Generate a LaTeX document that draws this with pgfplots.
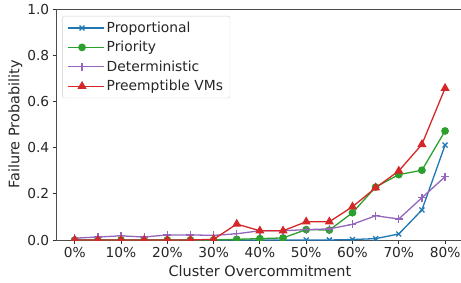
\documentclass[border=0pt]{standalone}
\usepackage{pgfplots}
\pgfplotsset{compat=1.18}
\usepackage{fontspec}
\setmainfont{DejaVu Sans}
\definecolor{cblue}{RGB}{31,119,180}
\definecolor{cgreen}{RGB}{44,160,44}
\definecolor{cpurple}{RGB}{148,103,189}
\definecolor{cred}{RGB}{214,39,40}
\begin{document}
\begin{tikzpicture}
\begin{axis}[
  name=ax,
  scale only axis,
  width=407.4bp, height=231bp,
  xmin=-4, xmax=84, ymin=0, ymax=1,
  xtick={0,10,...,80},
  xticklabels={0\%,10\%,20\%,30\%,40\%,50\%,60\%,70\%,80\%},
  ytick={0,0.2,...,1.0},
  yticklabel style={/pgf/number format/fixed,/pgf/number format/fixed zerofill,/pgf/number format/precision=1},
  /pgf/number format/assume math mode=true,
  tick label style={font=\fontsize{13.8}{16}\selectfont, text=black!85},
  label style={font=\fontsize{14.5}{17}\selectfont, text=black!85},
  xlabel={Cluster Overcommitment},
  ylabel={Failure Probability},
  xlabel style={yshift=-1.5bp},
  ylabel style={yshift=-2bp},
  xtick pos=bottom, ytick pos=left,
  tick align=outside,
  major tick length=3.5bp,
  every tick/.style={black!80, line width=0.8bp},
  axis line style={black!70, line width=0.8bp},
  clip marker paths=true,
  every axis plot/.append style={line width=1.3bp},
  legend cell align=left,
  legend style={at={(rel axis cs:0,1)}, anchor=north west, xshift=6bp, yshift=-7bp,
    draw=black!18, rounded corners=2pt, fill=white,
    font=\fontsize{13.9}{15}\selectfont, text=black!85,
    row sep=3.4bp, inner xsep=5bp, inner ysep=3.8bp},
  legend image code/.code={\draw[mark repeat=2,mark phase=2] plot coordinates {(0bp,0bp)(14bp,0bp)(28bp,0bp)}; \path (28bp,0bp) -- (36bp,0bp);},
]
\addplot[cblue, mark=x, mark size=3.5bp] coordinates {
(0,0)(5,0)(10,0)(15,0)(20,0)(25,0)(30,0)(35,0)(40,0)(45,0)(50,0)(55,0)(60,0.002)(65,0.006)(70,0.026)(75,0.13)(80,0.411)};
\addlegendentry{Proportional}
\addplot[cgreen, mark=*, mark size=3.2bp] coordinates {
(0,0)(5,0)(10,0)(15,0)(20,0)(25,0)(30,0)(35,0.003)(40,0.006)(45,0.009)(50,0.045)(55,0.043)(60,0.118)(65,0.229)(70,0.283)(75,0.302)(80,0.472)};
\addlegendentry{Priority}
\addplot[cpurple, mark=+, mark size=4bp] coordinates {
(0,0.008)(5,0.013)(10,0.018)(15,0.013)(20,0.022)(25,0.022)(30,0.02)(35,0.027)(40,0.040)(45,0.040)(50,0.045)(55,0.048)(60,0.068)(65,0.105)(70,0.091)(75,0.183)(80,0.274)};
\addlegendentry{Deterministic}
\addplot[cred, mark=triangle*, mark size=4bp] coordinates {
(0,0)(5,0)(10,0)(15,0)(20,0)(25,0)(30,0.003)(35,0.069)(40,0.040)(45,0.040)(50,0.079)(55,0.079)(60,0.144)(65,0.226)(70,0.299)(75,0.414)(80,0.657)};
\addlegendentry{Preemptible VMs}
\end{axis}
\pgfresetboundingbox
\path ([shift={(-56.2bp,-43bp)}]ax.south west) rectangle ([shift={(404.8bp,240bp)}]ax.south west);
\end{tikzpicture}
\end{document}
